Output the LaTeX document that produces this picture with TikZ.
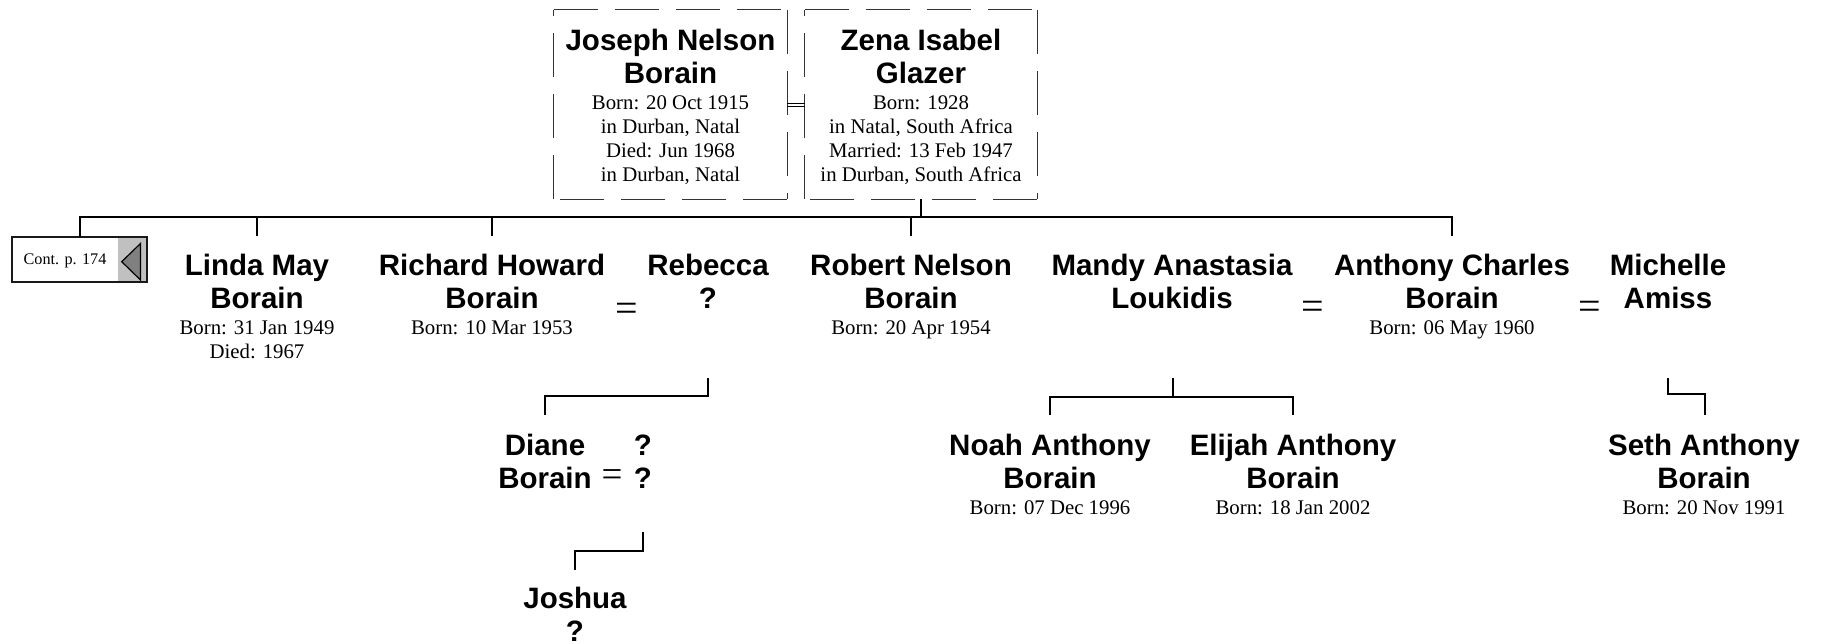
\documentclass[tikz,border=0pt]{standalone}
\usepackage{fontspec}
\setmainfont{Liberation Serif}
\setsansfont{Liberation Sans}
\newcommand\stk[1]{\vtop{\let\\\cr\halign{\hfil##\hfil\cr#1\crcr}}}
\definecolor{panelgray}{HTML}{C0C0C0}
\definecolor{trigray}{HTML}{808080}
\begin{document}
\begin{tikzpicture}[x=1pt,y=-1pt,
  nm/.style={font=\fontsize{29.5}{33}\selectfont\sffamily\bfseries, inner sep=0pt, anchor=base},
  dt/.style={font=\fontsize{20.8}{24}\selectfont\rmfamily, inner sep=0pt, anchor=base},
  eqs/.style={font=\fontsize{40}{40}\selectfont\rmfamily, inner sep=0pt, anchor=base},
  conn/.style={line width=2pt, black},
  dbox/.style={line width=1.3pt, black!80, dash pattern=on 44pt off 17pt},
  mline/.style={line width=1pt, black},
  boxn/.style={draw=none, inner sep=0pt, minimum width=233pt, minimum height=189pt}]
\useasboundingbox (0,0) rectangle (1821,644);

% ---------- parents ----------
\node[boxn] (jbox) at (670.5,104.5) {};
\node[boxn, minimum width=232pt] (zbox) at (921,104.5) {};
\foreach \b in {jbox,zbox}{
  \draw[dbox] (\b.north west) -- (\b.north east);
  \draw[dbox] (\b.north east) -- (\b.south east);
  \draw[dbox] (\b.south east) -- (\b.south west);
  \draw[dbox] (\b.south west) -- (\b.north west);
}
\node[nm] (joseph) at (670.5,51) {\stk{Joseph Nelson\\Borain}};
\node[dt] (joseph-d) at (670.5,110) {\stk{Born: 20 Oct 1915\\in Durban, Natal\\Died: Jun 1968\\in Durban, Natal}};
\node[nm] (zena) at (921,51) {\stk{Zena Isabel\\Glazer}};
\node[dt] (zena-d) at (921,110) {\stk{Born: 1928\\in Natal, South Africa\\Married: 13 Feb 1947\\in Durban, South Africa}};
\draw[mline] ([yshift=1pt]jbox.east) -- ([yshift=1pt]zbox.west);
\draw[mline] ([yshift=-2.2pt]jbox.east) -- ([yshift=-2.2pt]zbox.west);

% ---------- bus ----------
\coordinate (bus) at (0,217.5);
\coordinate (linda-t) at (257,236);
\coordinate (richard-t) at (492,236);
\coordinate (robert-t) at (911,236);
\coordinate (anthony-t) at (1452,236);

% ---------- continuation box ----------
\node[inner sep=0pt, minimum width=135pt, minimum height=45pt] (cont) at (79.5,259.5) {};
\fill[panelgray] ([xshift=-29pt]cont.north east) rectangle (cont.south east);
\filldraw[fill=trigray, draw=black, line width=1.2pt] (121.7,261.7) -- (140.5,243.5) -- (140.5,280) -- cycle;
\draw[line width=2.5pt, black!90] (cont.north west) rectangle (cont.south east);
\node[font=\fontsize{16.2}{18}\selectfont\rmfamily, inner sep=0pt, anchor=base] (contlabel) at (65,265) {Cont. p. 174};

\draw[conn] (cont.north) |- (anthony-t |- bus) -- (anthony-t);
\draw[conn] (zbox.south) -- (zbox.south |- bus);
\foreach \c in {linda-t,richard-t,robert-t}{
  \draw[conn] (\c |- bus) -- (\c);
}

% ---------- children row ----------
\node[nm] (linda) at (257,276) {\stk{Linda May\\Borain}};
\node[dt] (linda-d) at (257,335) {\stk{Born: 31 Jan 1949\\Died: 1967}};
\node[nm] (richard) at (492,276) {\stk{Richard Howard\\Borain}};
\node[dt] (richard-d) at (492,335) {\stk{Born: 10 Mar 1953}};
\node[eqs] (eq1) at (627,321.5) {=};
\node[nm] (rebecca) at (708,276) {\stk{Rebecca\\?}};
\node[nm] (robert) at (911,276) {\stk{Robert Nelson\\Borain}};
\node[dt] (robert-d) at (911,335) {\stk{Born: 20 Apr 1954}};
\node[nm] (mandy) at (1172,276) {\stk{Mandy Anastasia\\Loukidis}};
\node[eqs] (eq2) at (1313,320) {=};
\node[nm] (anthony) at (1452,276) {\stk{Anthony Charles\\Borain}};
\node[dt] (anthony-d) at (1452,335) {\stk{Born: 06 May 1960}};
\node[eqs] (eq3) at (1590,319.5) {=};
\node[nm] (michelle) at (1668,276) {\stk{Michelle\\Amiss}};

% ---------- grandchildren ----------
\coordinate (rebecca-c) at (708,378);
\coordinate (diane-t) at (545,415);
\draw[conn] (rebecca-c) -- ++(0,18) -| (diane-t);
\node[nm] (diane) at (545,455) {\stk{Diane\\Borain}};
\node[eqs, font=\fontsize{37}{37}\selectfont\rmfamily] (eq4) at (612,486.5) {=};
\node[nm] (dspouse) at (643,455) {\stk{?\\?}};
\coordinate (dspouse-c) at (643,532);
\coordinate (joshua-t) at (575,570);
\draw[conn] (dspouse-c) -- ++(0,19) -| (joshua-t);
\node[nm] (joshua) at (575,608) {\stk{Joshua\\?}};

\coordinate (mandy-c) at (1173,378);
\coordinate (noah-t) at (1050,415);
\coordinate (elijah-t) at (1293,415);
\coordinate (mbar) at (1173,397);
\draw[conn] (mandy-c) -- (mbar);
\draw[conn] (noah-t) |- (mbar) -| (elijah-t);
\node[nm] (noah) at (1050,455) {\stk{Noah Anthony\\Borain}};
\node[dt] (noah-d) at (1050,514) {\stk{Born: 07 Dec 1996}};
\node[nm] (elijah) at (1293,455) {\stk{Elijah Anthony\\Borain}};
\node[dt] (elijah-d) at (1293,514) {\stk{Born: 18 Jan 2002}};

\coordinate (michelle-c) at (1668,378);
\coordinate (seth-t) at (1705,415);
\draw[conn] (michelle-c) -- ++(0,16) -| (seth-t);
\node[nm] (seth) at (1704,455) {\stk{Seth Anthony\\Borain}};
\node[dt] (seth-d) at (1704,514) {\stk{Born: 20 Nov 1991}};
\end{tikzpicture}
\end{document}
